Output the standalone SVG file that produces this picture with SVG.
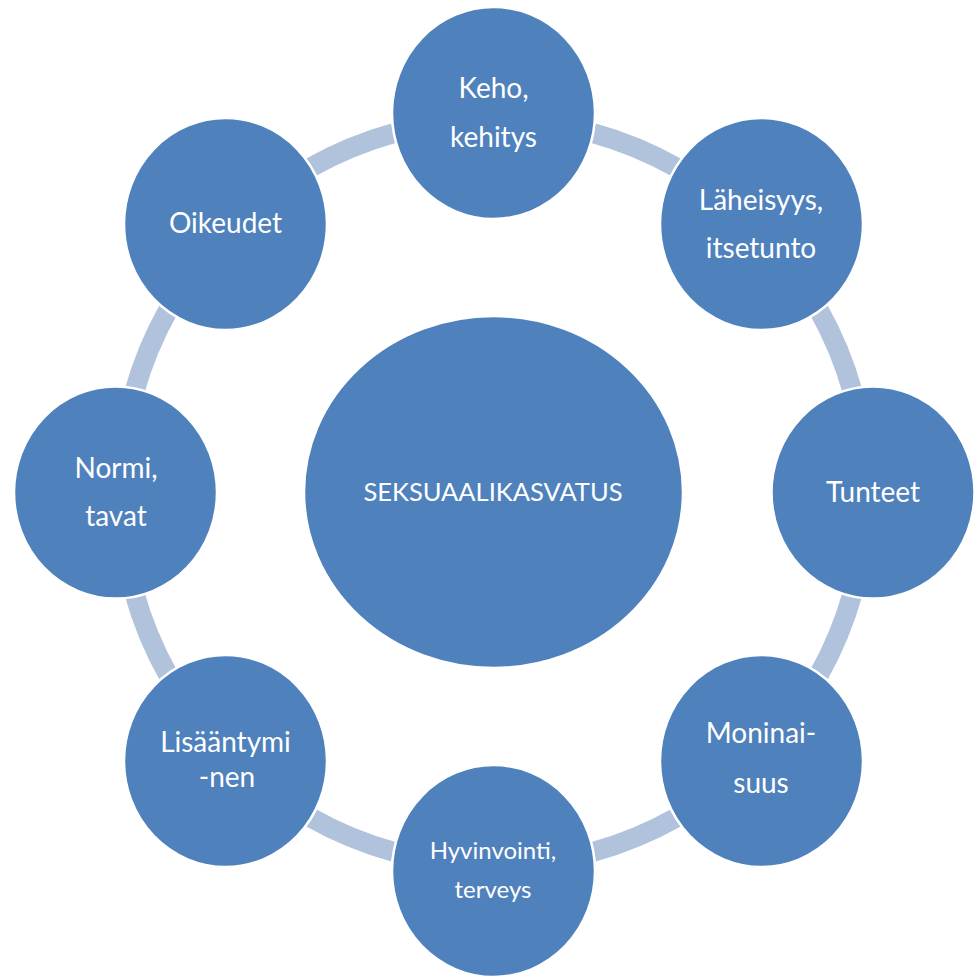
<svg xmlns="http://www.w3.org/2000/svg" width="974" height="976" viewBox="0 0 974 976">
<style>
.node{fill:#4F81BD;stroke:#FFFFFF;stroke-width:2.5}
.arc{fill:none;stroke:#B1C2DD;stroke-width:20}
.t{fill:#FFFFFF;font-family:Lato,Carlito,Calibri,"Open Sans",sans-serif;font-size:28px;text-anchor:middle}
.s{font-size:24px}
.c{font-size:25.5px}
</style>
<rect width="974" height="976" fill="#FFFFFF"/>
<g id="connectors">
<path class="arc" d="M593.17 133.08 A373 373 0 0 1 677.17 167.84"/>
<path class="arc" d="M818.16 308.83 A373 373 0 0 1 852.92 392.83"/>
<path class="arc" d="M852.92 592.17 A373 373 0 0 1 818.16 676.17"/>
<path class="arc" d="M677.17 817.16 A373 373 0 0 1 593.17 851.92"/>
<path class="arc" d="M393.83 851.92 A373 373 0 0 1 309.83 817.16"/>
<path class="arc" d="M168.84 676.17 A373 373 0 0 1 134.08 592.17"/>
<path class="arc" d="M134.08 392.83 A373 373 0 0 1 168.84 308.83"/>
<path class="arc" d="M309.83 167.84 A373 373 0 0 1 393.83 133.08"/>
</g>
<g id="center">
<ellipse class="node" cx="493.5" cy="492" rx="189.5" ry="176"/>
<text class="t c" x="493" y="501">SEKSUAALIKASVATUS</text>
</g>
<g id="keho">
<ellipse class="node" cx="493.5" cy="113" rx="101.5" ry="106"/>
<text class="t" x="493.5" y="98">Keho,</text>
<text class="t" x="493.5" y="147">kehitys</text>
</g>
<g id="laheisyys">
<ellipse class="node" cx="761.5" cy="224" rx="101.5" ry="106"/>
<text class="t" x="761" y="210">Läheisyys,</text>
<text class="t" x="761" y="258">itsetunto</text>
</g>
<g id="tunteet">
<ellipse class="node" cx="873" cy="492.5" rx="101.5" ry="106"/>
<text class="t" x="873" y="502">Tunteet</text>
</g>
<g id="moninaisuus">
<ellipse class="node" cx="761.5" cy="761" rx="101.5" ry="106"/>
<text class="t" x="761" y="743">Moninai-</text>
<text class="t" x="761" y="793">suus</text>
</g>
<g id="hyvinvointi">
<ellipse class="node" cx="493.5" cy="871" rx="101.5" ry="106"/>
<text class="t s" x="493" y="859">Hyvinvointi,</text>
<text class="t s" x="493" y="898">terveys</text>
</g>
<g id="lisaantyminen">
<ellipse class="node" cx="225.5" cy="761" rx="101.5" ry="106"/>
<text class="t" x="225.5" y="752">Lisääntymi</text>
<text class="t" x="227" y="787">-nen</text>
</g>
<g id="normi">
<ellipse class="node" cx="115.5" cy="492.5" rx="101.5" ry="106"/>
<text class="t" x="116" y="478">Normi,</text>
<text class="t" x="116" y="526">tavat</text>
</g>
<g id="oikeudet">
<ellipse class="node" cx="225.5" cy="224" rx="101.5" ry="106"/>
<text class="t" x="225.5" y="233">Oikeudet</text>
</g>
</svg>
